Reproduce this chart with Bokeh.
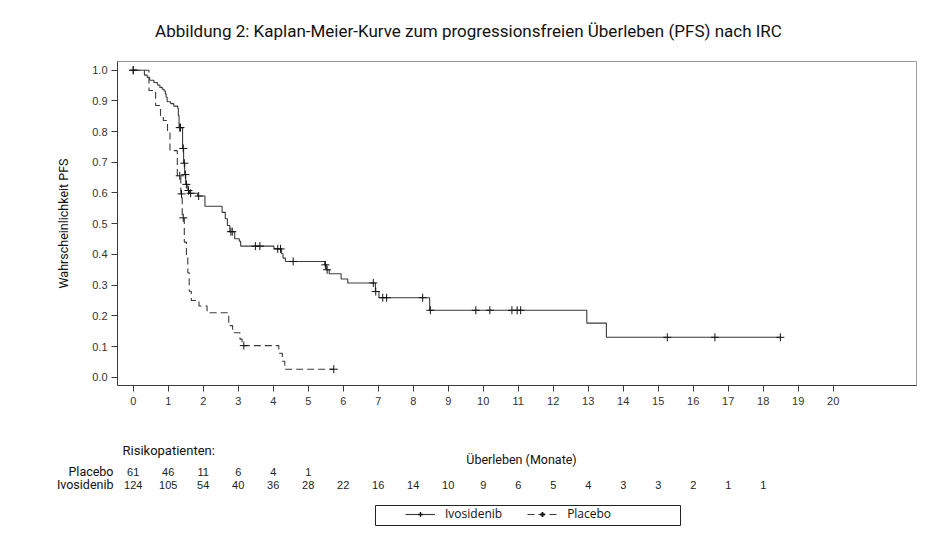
from bokeh.plotting import figure
from bokeh.layouts import column
from bokeh.models import (Range1d, FixedTicker, NumeralTickFormatter, ColumnDataSource,
                          Legend, LegendItem, BoxAnnotation)
from bokeh.core.properties import value
from bokeh.embed import file_html
from bokeh.resources import INLINE

# ---------------- data ----------------
title_text = "Abbildung 2: Kaplan-Meier-Kurve zum progressionsfreien Überleben (PFS) nach IRC"
y_label = "Wahrscheinlichkeit PFS"
x_label = "Überleben (Monate)"
series_names = ["Ivosidenib", "Placebo"]

# Ivosidenib: step times (months) and survival after each step
ivo_time = [0.00, 0.32, 0.40, 0.47, 0.59, 0.69, 0.76, 0.83, 0.88, 0.92, 0.94, 0.97,
            1.07, 1.16, 1.27, 1.29, 1.31, 1.41, 1.44, 1.47, 1.50, 1.56, 1.61, 1.84,
            2.05, 2.54, 2.63, 2.69, 2.76, 2.90, 3.03, 3.07, 4.02, 4.24, 4.28, 4.35,
            5.47, 5.52, 5.60, 5.94, 6.13, 6.92, 7.02, 8.47, 12.96, 13.52, 18.49]
ivo_surv = [1.000, 0.984, 0.976, 0.967, 0.960, 0.952, 0.944, 0.938, 0.932, 0.922, 0.912, 0.897,
            0.891, 0.883, 0.876, 0.852, 0.813, 0.745, 0.697, 0.660, 0.628, 0.608, 0.599, 0.590,
            0.557, 0.537, 0.516, 0.494, 0.474, 0.451, 0.443, 0.427, 0.418, 0.402, 0.388, 0.377,
            0.366, 0.350, 0.337, 0.320, 0.307, 0.279, 0.259, 0.218, 0.176, 0.130, 0.130]
ivo_cens_time = [0.00, 1.33, 1.35, 1.43, 1.46, 1.49, 1.52, 1.58, 1.64, 1.87, 2.79, 2.83,
                 3.49, 3.62, 4.13, 4.21, 4.57, 5.49, 5.54, 6.86, 6.93, 7.13, 7.24, 8.27,
                 8.49, 9.79, 10.19, 10.82, 10.97, 11.07, 15.26, 16.62, 18.49]
ivo_cens_surv = [1.000, 0.813, 0.813, 0.745, 0.697, 0.660, 0.628, 0.608, 0.599, 0.590, 0.474, 0.474,
                 0.427, 0.427, 0.418, 0.418, 0.377, 0.366, 0.350, 0.307, 0.279, 0.259, 0.259, 0.259,
                 0.218, 0.218, 0.218, 0.218, 0.218, 0.218, 0.130, 0.130, 0.130]

# Placebo
pla_time = [0.00, 0.45, 0.64, 0.78, 0.86, 0.98, 1.05, 1.26, 1.36, 1.40, 1.46, 1.52,
            1.56, 1.60, 1.66, 1.88, 2.11, 2.73, 2.84, 3.05, 3.11, 4.16, 4.26, 4.33, 5.73]
pla_surv = [1.000, 0.934, 0.885, 0.852, 0.836, 0.803, 0.738, 0.656, 0.597, 0.519, 0.440, 0.390,
            0.340, 0.280, 0.250, 0.232, 0.210, 0.168, 0.145, 0.124, 0.103, 0.078, 0.052, 0.026, 0.026]
pla_cens_time = [0.00, 1.33, 1.38, 1.43, 3.16, 5.73]
pla_cens_surv = [1.000, 0.656, 0.597, 0.519, 0.103, 0.026]

# numbers at risk
risk_title = "Risikopatienten:"
risk_groups = ["Placebo", "Ivosidenib"]
risk_months_pla = [0, 1, 2, 3, 4, 5]
risk_pla = [61, 46, 11, 6, 4, 1]
risk_months_ivo = list(range(19))
risk_ivo = [124, 105, 54, 40, 36, 28, 22, 16, 14, 10, 9, 6, 5, 4, 3, 3, 2, 1, 1]

x_ticks = list(range(21))
y_ticks = [0.0, 0.1, 0.2, 0.3, 0.4, 0.5, 0.6, 0.7, 0.8, 0.9, 1.0]

# ---------------- styling / layout constants ----------------
LINE = "#3a3a3a"
TICK_FONT = "Liberation Sans"
TEXT_FONT = "Roboto"
W = 928
X_MIN, X_MAX = -0.449, 22.38          # month range of the plot frame
FRAME_L, FRAME_R = 117, 12            # px borders left / right of the frame
PX_PER_MONTH = (W - FRAME_L - FRAME_R) / (X_MAX - X_MIN)
x_range = Range1d(X_MIN, X_MAX)


def px_to_month(px):
    return X_MIN + (px - FRAME_L) / PX_PER_MONTH


def bare(fig):
    fig.xgrid.visible = False
    fig.ygrid.visible = False
    fig.outline_line_color = None


# ---------------- title strip (page rows 0..61) ----------------
t = figure(width=W, height=61, output_backend="svg", toolbar_location=None,
           x_range=x_range, y_range=Range1d(61, 0), x_axis_location=None,
           y_axis_location=None, min_border_left=FRAME_L, min_border_right=FRAME_R,
           min_border_top=0, min_border_bottom=0)
bare(t)
t.text(x=[px_to_month(468)], y=[30], text=[title_text], text_align="center",
       text_baseline="middle", text_font=value(TEXT_FONT), text_font_size="17px",
       text_color="#111111")

# ---------------- main KM plot (page rows 61..411) ----------------
p = figure(width=W, height=350, output_backend="svg", toolbar_location=None,
           x_range=x_range, y_range=Range1d(-0.027, 1.0283),
           min_border_left=FRAME_L, min_border_right=FRAME_R, min_border_top=0,
           min_border_bottom=26)
p.xgrid.visible = False
p.ygrid.visible = False
p.outline_line_color = "#9a9a9a"
p.outline_line_width = 1

for ax in (p.xaxis[0], p.yaxis[0]):
    ax.axis_line_color = LINE
    ax.major_tick_line_color = LINE
    ax.major_tick_out = 6
    ax.major_tick_in = 0
    ax.minor_tick_out = 0
    ax.minor_tick_in = 0
    ax.major_label_text_font = TICK_FONT
    ax.major_label_text_font_size = "11px"
    ax.major_label_text_color = "#333333"

p.xaxis.ticker = FixedTicker(ticks=x_ticks)
p.xaxis.major_label_standoff = 5
p.yaxis.ticker = FixedTicker(ticks=y_ticks)
p.yaxis.formatter = NumeralTickFormatter(format="0.0")
p.yaxis.major_label_standoff = 4
p.yaxis.axis_label = y_label
p.yaxis.axis_label_text_font = TEXT_FONT
p.yaxis.axis_label_text_font_style = "normal"
p.yaxis.axis_label_text_font_size = "12.5px"
p.yaxis.axis_label_text_color = "#111111"
p.yaxis.axis_label_standoff = 18

p.step(ivo_time, ivo_surv, mode="after", line_color=LINE, line_width=1.1)
p.step(pla_time, pla_surv, mode="after", line_color=LINE, line_width=1.1, line_dash="7 4")
p.scatter(ivo_cens_time, ivo_cens_surv, marker="cross", size=8, line_color="#111111", line_width=1)
p.scatter(pla_cens_time, pla_cens_surv, marker="cross", size=8, line_color="#111111", line_width=1)

# ---------------- risk table + legend (page rows 411..529) ----------------
R_TOP, R_BOTTOM = 411, 529
ROW_Y = [471, 484]                    # page rows of the Placebo / Ivosidenib lines
r = figure(width=W, height=R_BOTTOM - R_TOP, output_backend="svg", toolbar_location=None,
           x_range=x_range, y_range=Range1d(R_BOTTOM, R_TOP), x_axis_location=None,
           min_border_left=FRAME_L, min_border_right=FRAME_R, min_border_top=0,
           min_border_bottom=0)
bare(r)
# group names as y-axis labels, right aligned against the plot's left edge
r.yaxis.ticker = FixedTicker(ticks=ROW_Y)
r.yaxis.major_label_overrides = {ROW_Y[0]: risk_groups[0], ROW_Y[1]: risk_groups[1]}
r.yaxis.axis_line_color = None
r.yaxis.major_tick_line_color = None
r.yaxis.minor_tick_line_color = None
r.yaxis.major_tick_out = 0
r.yaxis.major_label_standoff = 4
r.yaxis.major_label_text_font = TEXT_FONT
r.yaxis.major_label_text_font_size = "12.5px"
r.yaxis.major_label_text_color = "#111111"

r.text(x=[px_to_month(122)], y=[450], text=[risk_title], text_align="left",
       text_baseline="middle", text_font=value(TEXT_FONT), text_font_size="13px",
       text_color="#111111")
r.text(x=[px_to_month(521)], y=[459], text=[x_label], text_align="center",
       text_baseline="middle", text_font=value(TEXT_FONT), text_font_size="12.5px",
       text_color="#111111")

src_pla = ColumnDataSource(dict(x=risk_months_pla, n=[str(v) for v in risk_pla]))
src_ivo = ColumnDataSource(dict(x=risk_months_ivo, n=[str(v) for v in risk_ivo]))
for src, yy in ((src_pla, ROW_Y[0]), (src_ivo, ROW_Y[1])):
    r.text(x="x", y=yy, text="n", source=src, text_align="center",
           text_baseline="middle", text_font=value(TICK_FONT), text_font_size="11px",
           text_color="#222222")

# legend box (page px 375..680, rows 505..525)
r.add_layout(BoxAnnotation(left=px_to_month(375), right=px_to_month(680),
                           top=505, bottom=525, fill_alpha=0, line_alpha=1,
                           line_color="#222222", line_width=1))
# the curves again (they fall outside this strip's rows, so only their legend glyphs show)
lg_ivo_line = r.step(ivo_time, ivo_surv, mode="after", line_color=LINE, line_width=1.1)
lg_ivo_mark = r.scatter(ivo_cens_time, ivo_cens_surv, marker="cross", size=8,
                        line_color="#111111", line_width=1.3)
lg_pla_line = r.step(pla_time, pla_surv, mode="after", line_color=LINE, line_width=1.1,
                     line_dash="7 4")
lg_pla_mark = r.scatter(pla_cens_time, pla_cens_surv, marker="cross", size=8,
                        line_color="#111111", line_width=1.8)
legend = Legend(items=[LegendItem(label=series_names[0], renderers=[lg_ivo_line, lg_ivo_mark]),
                       LegendItem(label=series_names[1], renderers=[lg_pla_line, lg_pla_mark])],
                orientation="horizontal", location=(405 - FRAME_L, 7), padding=0, margin=0,
                spacing=25, glyph_width=30, glyph_height=12, label_standoff=10,
                label_height=12, border_line_alpha=0, background_fill_alpha=0,
                label_text_font="Open Sans", label_text_font_size="12px",
                label_text_color="#111111")
r.add_layout(legend, "center")

layout = column(t, p, r, spacing=0)
open("out.html", "w").write(file_html(layout, INLINE))
